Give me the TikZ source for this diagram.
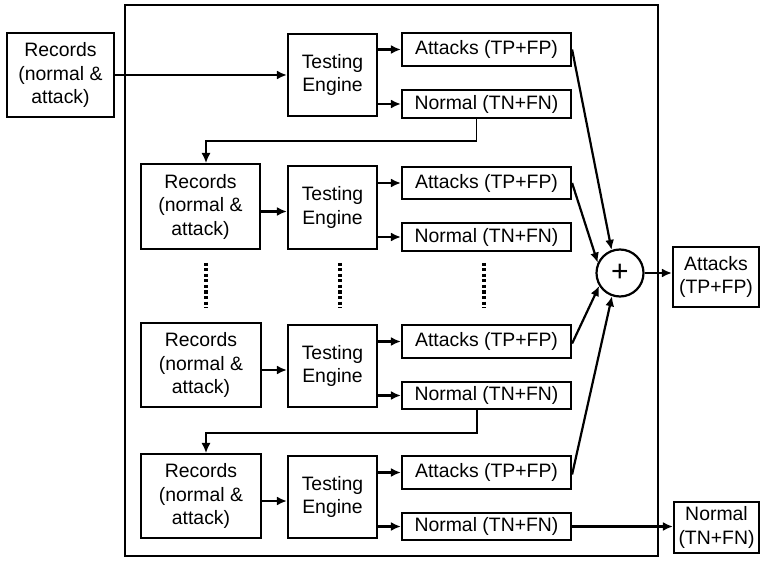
\documentclass[tikz,border=0pt]{standalone}
\usepackage{fontspec}
\setmainfont{Liberation Sans}
\usetikzlibrary{arrows.meta,calc}

\tikzset{
  box/.style={draw, line width=2.2pt, inner sep=0pt, align=center,
    font=\fontsize{19.4}{23.5}\selectfont},
  arr/.style={line width=2.2pt, -{Latex[length=10pt,width=9pt]}},
  feed/.style={line width=1.2pt, -{Latex[length=10pt,width=9pt]}},
  vdots/.style={line width=3.5pt, dash pattern=on 3pt off 2.5pt},
}

\begin{document}
\begin{tikzpicture}[x=1pt,y=-1pt]
\useasboundingbox (0,0) rectangle (760,561);

% enclosing frame of the cascade
\draw[line width=2.2pt] (125,5) rectangle (658,556);

% input records
\node[box, minimum width=107pt, minimum height=84pt] (rec0) at (60.5,75) {Records\\(normal \&\\attack)};

% stage 1
\node[box, minimum width=89pt, minimum height=82pt] (te1) at (332.5,75) {Testing\\Engine};
\node[box, minimum width=169pt, minimum height=33pt] (att1) at (486.5,49.5) {Attacks (TP+FP)};
\node[box, minimum width=169pt, minimum height=28pt] (nor1) at (486.5,104) {Normal (TN+FN)};

% stage 2
\node[box, minimum width=119pt, minimum height=85pt] (rec2) at (200.5,206.5) {Records\\(normal \&\\attack)};
\node[box, minimum width=89pt, minimum height=83pt] (te2) at (332.5,207.5) {Testing\\Engine};
\node[box, minimum width=169pt, minimum height=32pt] (att2) at (486.5,183) {Attacks (TP+FP)};
\node[box, minimum width=169pt, minimum height=28pt] (nor2) at (486.5,237) {Normal (TN+FN)};

% stage n-1
\node[box, minimum width=120pt, minimum height=84pt] (rec3) at (201,365) {Records\\(normal \&\\attack)};
\node[box, minimum width=89pt, minimum height=82pt] (te3) at (332.5,366) {Testing\\Engine};
\node[box, minimum width=169pt, minimum height=33pt] (att3) at (486.5,341.5) {Attacks (TP+FP)};
\node[box, minimum width=169pt, minimum height=27pt] (nor3) at (486.5,395.5) {Normal (TN+FN)};

% stage n
\node[box, minimum width=120pt, minimum height=84pt] (rec4) at (201,496) {Records\\(normal \&\\attack)};
\node[box, minimum width=89pt, minimum height=82pt] (te4) at (332.5,497) {Testing\\Engine};
\node[box, minimum width=169pt, minimum height=33pt] (att4) at (486.5,472.5) {Attacks (TP+FP)};
\node[box, minimum width=169pt, minimum height=27pt] (nor4) at (486.5,526.5) {Normal (TN+FN)};

% summing junction and outputs
\node[box, circle, minimum size=47pt, font=\fontsize{30}{30}\selectfont] (plus) at (620,273) {+};
\node[box, minimum width=86pt, minimum height=60pt] (outA) at (716,277) {Attacks\\(TP+FP)};
\node[box, minimum width=85pt, minimum height=51pt] (outN) at (716.5,527.5) {Normal\\(TN+FN)};

% records into engines
\draw[arr] (rec0.east) -- (rec0.east -| te1.west);
\foreach \r/\t in {rec2/te2, rec3/te3, rec4/te4}
  \draw[arr] ([yshift=-5pt]\r.east) -- ([yshift=-5pt]\r.east -| \t.west);

% engines into their two result classes
\foreach \t/\a/\n in {te1/att1/nor1, te2/att2/nor2, te3/att3/nor3, te4/att4/nor4}{
  \draw[arr] (\t.east |- \a.west) -- (\a.west);
  \draw[arr] (\t.east |- \n.west) -- (\n.west);
}

% normal records fed to the next stage
\coordinate (k1) at (206,141);
\coordinate (k3) at (206,433);
\draw[feed] ([xshift=-10pt]nor1.south) |- (k1) -- (k1 |- rec2.north);
\draw[feed] ([xshift=-9.5pt]nor3.south) |- (k3) -- (k3 |- rec4.north);

% omitted stages
\foreach \x in {206,340,484}
  \draw[vdots] (\x,263) -- (\x,308);

% attacks summed
\draw[arr] (att1.east) -- (plus.110);
\draw[arr] (att2.east) -- (plus.155);
\draw[arr] ([yshift=-2pt]att3.east) -- (plus.212);
\draw[arr] ([yshift=-2pt]att4.east) -- (plus.251);

% final outputs
\draw[arr] (plus.east) -- (plus.east -| outA.west);
\draw[arr] (nor4.east) -- (nor4.east -| outN.west);
\end{tikzpicture}
\end{document}
